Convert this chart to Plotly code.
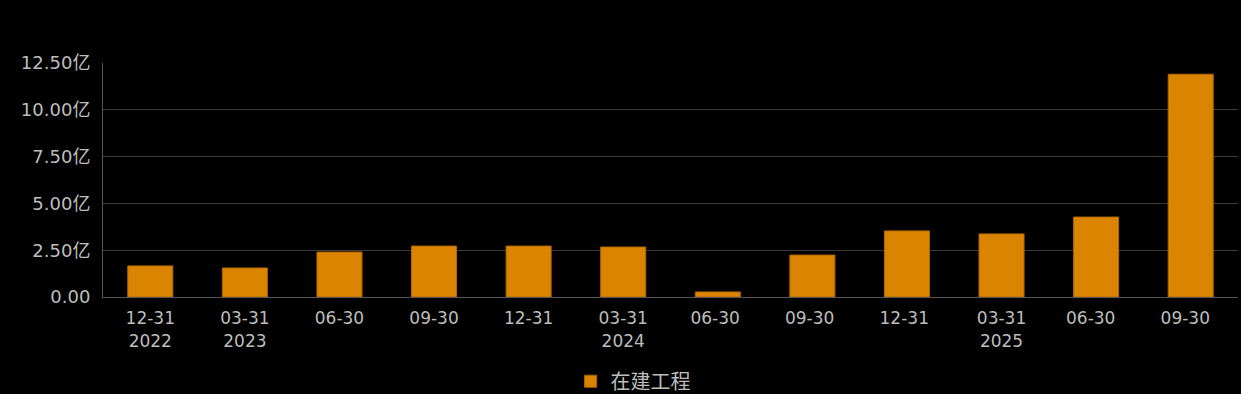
import plotly.graph_objects as go

categories = ["12-31<br>2022", "03-31<br>2023", "06-30", "09-30", "12-31", "03-31<br>2024",
              "06-30 ", "09-30 ", "12-31 ", "03-31<br>2025", "06-30  ", "09-30  "]
values = [1.66, 1.55, 2.40, 2.72, 2.72, 2.67, 0.27, 2.24, 3.53, 3.37, 4.27, 11.9]
series_name = "在建工程"
tick_vals = [0, 2.5, 5, 7.5, 10, 12.5]
tick_text = ["0.00", "2.50亿", "5.00亿", "7.50亿", "10.00亿", "12.50亿"]

font_family = "DejaVu Sans, Noto Sans CJK SC, sans-serif"
text_color = "#bdbdbd"

fig = go.Figure()
fig.add_trace(go.Bar(
    x=categories, y=values, name=series_name,
    marker=dict(color="#DB8400", line=dict(color="#B06A00", width=1)),
    width=0.476, showlegend=True,
))

fig.update_layout(
    width=1241, height=394,
    paper_bgcolor="#000000", plot_bgcolor="#000000",
    margin=dict(l=103, r=3, t=63, b=97, autoexpand=False),
    font=dict(family=font_family, color=text_color, size=17),
    showlegend=True,
    legend=dict(orientation="h", x=0.412, xanchor="left", y=-0.36, yanchor="middle",
                font=dict(size=20, color=text_color, family="Noto Sans CJK SC, sans-serif"),
                itemwidth=30),
    xaxis=dict(type="category", showgrid=False, showline=True, linecolor="#555555", linewidth=1,
               ticks="", automargin=False, ticklabelstandoff=6,
               tickfont=dict(size=17, color=text_color)),
    yaxis=dict(range=[0, 12.5], tickvals=tick_vals, ticktext=tick_text,
               showgrid=True, gridcolor="#3a3a3a", gridwidth=1,
               showline=True, linecolor="#555555", linewidth=1,
               zeroline=False, ticks="", automargin=False, ticklabelstandoff=8,
               tickfont=dict(size=18, color=text_color)),
)

fig.write_html("out.html")
